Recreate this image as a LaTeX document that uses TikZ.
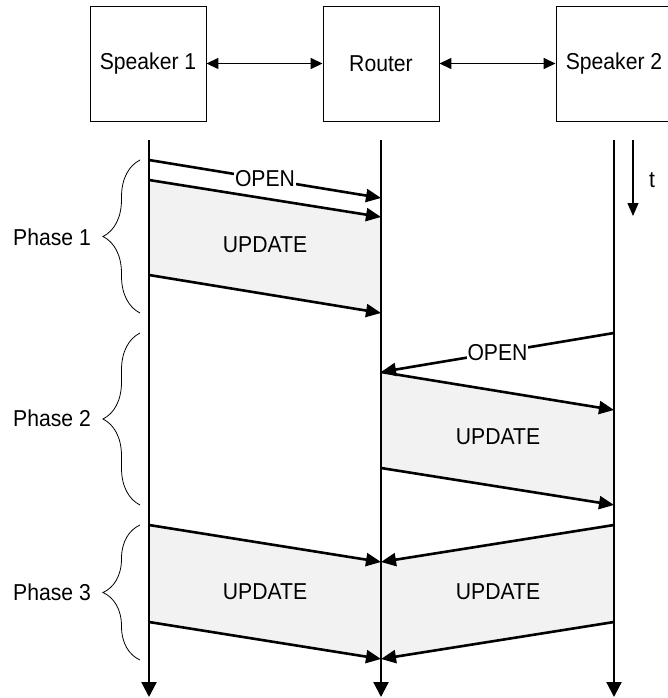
\documentclass[tikz,border=0pt]{standalone}
\usepackage{fontspec}
\setmainfont{Liberation Sans}[FakeStretch=0.92]
\usetikzlibrary{arrows.meta,decorations.pathreplacing}
\definecolor{shade}{HTML}{F2F2F2}
\begin{document}
\begin{tikzpicture}[x=1pt,y=-1pt,
  every node/.style={font=\fontsize{23}{27}\selectfont},
  entity/.style={draw=black,line width=0.9pt,minimum width=116pt,minimum height=115pt,inner sep=0pt},
  link/.style={line width=1.5pt,{Triangle[length=12pt,width=11pt]}-{Triangle[length=12pt,width=11pt]}},
  lifeline/.style={line width=2.2pt,-{Triangle[length=15pt,width=15pt]}},
  msg/.style={line width=2.6pt,-{Triangle[length=15pt,width=13pt]}},
  msglabel/.style={fill=white,inner sep=1pt},
  phasebrace/.style={decorate,decoration={brace,amplitude=37pt},line width=0.8pt},
  region/.style={fill=shade,draw=none}]
\useasboundingbox (0,0) rectangle (667,698);

% entities
\node[entity] (s1) at (148,63.5) {Speaker 1};
\node[entity] (r) at (381,63.5) {Router};
\node[entity] (s2) at (614,63.5) {};
\node (s2t) at (614,63.5) {Speaker 2};
\draw[link] (s1.east) -- (r.west);
\draw[link] (r.east) -- (s2.west);

% lifeline coordinates
\coordinate (a0) at (149,140); \coordinate (aE) at (149,697);
\coordinate (b0) at (381,140); \coordinate (bE) at (381,697);
\coordinate (c0) at (614,140); \coordinate (cE) at (614,697);

% message points
\coordinate (p1) at (149,160); \coordinate (q1) at (381,198);
\coordinate (p2) at (149,180); \coordinate (q2) at (381,217);
\coordinate (p3) at (149,275); \coordinate (q3) at (381,313);
\coordinate (p4) at (614,333); \coordinate (q4) at (381,372);
\coordinate (q5) at (614,410);
\coordinate (p6) at (381,468); \coordinate (q6) at (614,505);
\coordinate (p7) at (149,525); \coordinate (q7) at (381,562); \coordinate (p8) at (614,525);
\coordinate (p9) at (149,622); \coordinate (q9) at (381,659); \coordinate (p10) at (614,622);

% shaded regions
\fill[region] (p2) -- (q2) -- (q3) -- (p3) -- cycle;
\fill[region] (q4) -- (q5) -- (q6) -- (p6) -- cycle;
\fill[region] (p7) -- (q7) -- (q9) -- (p9) -- cycle;
\fill[region] (p8) -- (q7) -- (q9) -- (p10) -- cycle;

% lifelines
\draw[lifeline] (a0) -- (aE);
\draw[lifeline] (b0) -- (bE);
\draw[lifeline] (c0) -- (cE);

% messages
\draw[msg] (p1) -- node[msglabel] (open1) {OPEN} (q1);
\draw[msg] (p2) -- (q2);
\draw[msg] (p3) -- (q3);
\draw[msg] (p4) -- node[msglabel] (open2) {OPEN} (q4);
\draw[msg] (q4) -- (q5);
\draw[msg] (p6) -- (q6);
\draw[msg] (p7) -- (q7);
\draw[msg] (p8) -- (q7);
\draw[msg] (p9) -- (q9);
\draw[msg] (p10) -- (q9);

% update labels
\node (u1) at (265,245) {UPDATE};
\node (u2) at (498,437) {UPDATE};
\node (u3) at (265,592) {UPDATE};
\node (u4) at (498,592) {UPDATE};

% time arrow
\coordinate (t0) at (633,140); \coordinate (t1) at (633,216);
\draw[line width=1.3pt,-{Triangle[length=13pt,width=11pt]}] (t0) -- (t1);
\node (tl) at (652,180) {t};

% phase braces
\coordinate (b1s) at (140,313); \coordinate (b1e) at (140,160);
\coordinate (b2s) at (140,505); \coordinate (b2e) at (140,333);
\coordinate (b3s) at (140,660); \coordinate (b3e) at (140,525);
\draw[phasebrace] (b1s) -- (b1e);
\draw[phasebrace] (b2s) -- (b2e);
\draw[phasebrace] (b3s) -- (b3e);
\node (ph1) at (52,237) {Phase 1};
\node (ph2) at (52,418) {Phase 2};
\node (ph3) at (52,592) {Phase 3};
\end{tikzpicture}
\end{document}
